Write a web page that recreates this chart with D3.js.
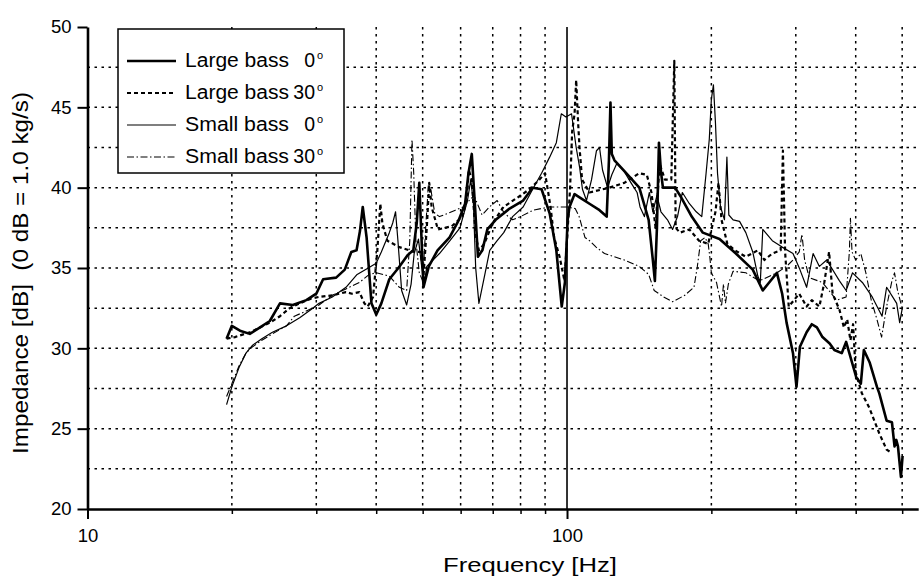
<!DOCTYPE html>
<html>
<head>
<meta charset="utf-8">
<script src="https://cdn.jsdelivr.net/npm/d3@7"></script>
<style>
  body { margin: 0; background: #fff; }
  svg { font-family: "Liberation Sans", Arial, sans-serif; }
</style>
</head>
<body>
<div id="chart"></div>
<script>
// Values: [frequency Hz, impedance dB]
const largeBass0 = [
  [19.5,30.6],[20.0,31.4],[20.8,31.1],[21.8,30.9],[22.9,31.3],[24.0,31.7],[25.2,32.8],[26.8,32.7],
  [28.6,33.0],[30.0,33.4],[31.0,34.3],[33.0,34.4],[34.4,34.9],[35.5,36.0],[36.4,36.1],[37.0,37.3],
  [37.5,38.8],[38.2,36.9],[39.1,32.8],[40.0,32.1],[41.0,32.8],[42.6,34.3],[44.5,35.0],[46.5,35.8],
  [47.8,36.1],[48.6,37.8],[49.2,40.3],[49.7,37.0],[50.2,33.8],[51.5,35.1],[53.7,36.1],[56.9,36.9],
  [59.5,38.0],[61.3,39.0],[62.3,40.9],[63.3,42.1],[64.3,38.8],[65.2,35.7],[66.6,36.1],[68.2,37.4],
  [71.0,38.0],[75.9,38.7],[81.0,39.2],[84.8,40.0],[88.5,39.9],[92.0,38.4],[95.0,36.1],[97.5,32.6],
  [99.0,34.1],[100.3,38.0],[101.2,38.8],[103.7,39.6],[106.2,39.4],[111.4,39.0],[116.9,38.6],[121.0,38.2],
  [122.3,41.7],[123.2,45.3],[124.0,42.1],[125.6,41.7],[131.0,41.1],[141.5,40.0],[148.0,38.0],[151.0,35.5],
  [152.5,34.2],[154.0,37.5],[155.5,42.8],[157.0,41.0],[158.5,40.0],[168.0,40.0],[173.0,39.4],[182.0,38.2],
  [192.0,37.2],[208.0,36.8],[225.0,35.9],[244.0,34.9],[256.0,33.6],[264.0,34.1],[274.0,34.7],[281.0,33.4],
  [287.0,31.6],[296.0,29.7],[301.0,27.6],[306.0,30.1],[316.0,31.0],[324.0,31.5],[332.0,31.3],[341.0,30.7],
  [353.0,30.3],[361.0,29.9],[374.0,29.7],[382.0,30.4],[388.0,29.7],[401.0,28.2],[410.0,27.8],[416.0,29.9],
  [428.0,29.1],[443.0,27.6],[448.0,27.2],[464.0,25.5],[476.0,25.4],[482.0,23.9],[486.0,24.3],[490.0,23.9],
  [497.0,22.0],[501.0,23.3]
];

const largeBass30 = [
  [19.5,30.6],[20.3,30.7],[21.8,31.0],[22.9,31.3],[24.0,31.6],[25.2,32.0],[26.4,32.5],[27.7,32.8],
  [29.3,33.1],[30.4,33.2],[32.4,33.3],[34.6,33.5],[35.6,33.4],[36.9,33.5],[37.8,32.8],[38.4,32.6],
  [39.4,33.2],[40.2,36.0],[40.8,39.0],[41.2,37.8],[42.2,36.7],[44.7,36.3],[46.9,36.1],[48.0,36.0],
  [49.5,36.0],[50.2,34.5],[51.0,37.5],[51.6,40.3],[52.2,38.8],[53.8,37.4],[57.5,37.6],[60.5,38.2],
  [61.8,39.2],[62.4,41.1],[63.3,40.5],[64.5,37.0],[65.5,36.1],[67.2,36.5],[70.0,37.8],[73.7,38.8],
  [79.0,39.4],[83.5,39.9],[87.6,40.5],[90.0,40.9],[92.4,38.8],[94.0,36.9],[96.5,35.7],[98.8,34.2],
  [100.0,36.7],[101.5,40.0],[102.5,43.5],[103.7,44.6],[104.5,46.7],[105.5,44.0],[106.2,42.5],[107.5,40.5],
  [111.4,39.7],[122.6,40.0],[131.7,40.3],[141.5,40.9],[146.7,40.8],[150.0,39.7],[153.0,37.5],[156.0,41.5],
  [160.0,40.5],[165.0,40.5],[167.4,47.9],[168.5,37.5],[172.0,37.2],[180.0,37.4],[188.5,36.7],[197.0,36.5],
  [204.0,38.5],[207.0,40.3],[210.0,38.0],[216.0,36.5],[224.0,36.1],[236.0,35.7],[250.0,36.1],[258.0,35.5],
  [268.0,35.9],[279.0,36.1],[282.0,42.3],[285.0,36.0],[290.0,32.6],[305.0,33.4],[316.0,32.6],[324.0,33.0],
  [336.0,32.6],[344.0,34.1],[352.0,36.0],[358.0,33.4],[370.0,32.4],[378.0,31.3],[384.0,31.8],[390.0,30.5],
  [395.0,31.5],[400.0,28.5],[412.0,27.2],[427.0,26.3],[448.0,24.7],[464.0,23.7],[475.0,23.5]
];

const smallBass0 = [
  [19.5,26.5],[20.0,27.6],[20.7,28.8],[21.4,29.7],[22.1,30.2],[23.1,30.6],[24.3,31.0],[26.0,31.4],
  [27.7,31.9],[29.5,32.5],[30.4,32.8],[32.4,33.2],[34.6,33.8],[36.5,34.6],[38.5,35.0],[40.0,35.3],
  [41.0,36.0],[42.6,37.2],[43.3,37.8],[43.9,38.5],[44.4,36.7],[45.2,33.6],[46.3,32.7],[47.3,34.0],
  [48.0,35.9],[49.0,36.8],[49.8,35.0],[50.5,34.2],[51.0,35.1],[54.2,35.9],[57.0,36.7],[59.8,37.5],
  [62.0,39.2],[63.0,40.5],[63.8,39.0],[64.5,35.0],[65.5,32.8],[67.5,34.7],[69.0,36.1],[71.5,36.7],
  [73.8,37.2],[77.0,38.2],[81.0,38.8],[84.8,39.9],[88.5,40.9],[92.0,41.9],[95.0,42.8],[97.3,44.6],
  [99.5,44.4],[102.2,44.6],[104.5,42.5],[106.2,41.3],[107.7,39.9],[109.8,39.2],[112.5,40.5],[115.2,42.3],
  [116.9,42.5],[118.6,41.1],[121.5,40.0],[124.0,40.8],[127.0,41.5],[131.0,41.1],[136.0,40.3],[140.0,39.7],
  [142.0,38.8],[145.0,38.2],[148.5,39.7],[151.0,38.5],[154.0,39.5],[157.0,38.5],[162.0,38.0],[166.0,37.4],
  [170.0,38.2],[174.0,39.7],[180.0,39.0],[186.0,38.5],[191.0,38.2],[195.0,40.9],[198.0,43.0],[200.0,45.5],
  [202.0,46.4],[204.0,44.0],[206.0,40.9],[209.0,38.8],[213.0,38.0],[215.5,41.9],[217.5,38.3],[222.0,38.0],
  [229.0,37.9],[236.0,37.2],[244.0,36.0],[250.0,34.5],[253.0,34.1],[256.0,37.4],[268.0,36.7],[281.0,36.3],
  [296.0,35.9],[306.0,34.9],[316.0,33.8],[326.0,35.9],[336.0,35.1],[348.0,35.5],[370.0,34.2],[382.0,33.6],
  [394.0,34.7],[413.0,34.1],[433.0,33.2],[454.0,32.0],[464.0,33.8],[487.0,32.8],[494.0,31.6],[501.0,32.6]
];

const smallBass30 = [
  [19.5,27.0],[20.0,27.8],[20.7,28.9],[21.4,29.7],[22.1,30.1],[23.1,30.5],[24.3,30.9],[26.0,31.4],
  [27.0,32.0],[28.5,32.3],[30.4,32.7],[32.4,33.3],[34.6,33.7],[36.9,34.1],[38.7,34.6],[40.0,34.7],
  [42.6,34.5],[44.7,33.8],[46.3,33.6],[47.0,36.7],[47.5,43.0],[47.9,40.9],[48.4,36.7],[49.2,34.7],
  [50.0,34.2],[50.8,37.8],[51.4,40.2],[52.0,39.9],[53.0,38.4],[54.2,38.2],[56.5,38.4],[58.5,38.6],
  [60.8,38.8],[62.5,39.2],[64.0,39.5],[66.5,38.3],[68.9,38.8],[71.5,39.2],[74.0,38.4],[77.0,38.0],
  [80.0,38.2],[85.0,38.6],[92.0,38.8],[100.0,38.8],[104.0,38.7],[106.0,38.2],[109.0,36.9],[111.4,36.7],
  [115.0,36.3],[119.7,35.9],[131.7,35.5],[141.5,35.1],[148.0,34.6],[152.0,33.6],[159.0,33.2],[166.0,32.9],
  [176.0,33.3],[184.0,33.8],[187.0,35.1],[190.0,36.7],[194.0,36.9],[197.0,36.5],[198.5,35.7],[200.0,34.7],
  [205.0,34.1],[208.0,33.2],[210.0,32.6],[212.0,34.0],[214.0,32.8],[217.0,34.0],[222.0,34.8],[236.0,34.7],
  [252.0,34.2],[274.0,34.7],[287.0,35.1],[296.0,35.5],[305.0,36.0],[309.0,37.1],[313.0,35.5],[320.0,34.4],
  [341.0,34.1],[365.0,33.0],[382.0,33.2],[388.0,36.0],[390.0,38.1],[393.0,36.0],[400.0,35.5],[410.0,35.9],
  [420.0,34.7],[431.0,33.0],[443.0,31.8],[453.0,30.7],[464.0,32.6],[476.0,34.2],[482.0,34.7],[489.0,33.6],
  [499.0,32.6]
];

const seriesNames = ["Large bass", "Large bass", "Small bass", "Small bass"];
const seriesAngles = ["0", "30", "0", "30"];
const yTickValues = [20, 25, 30, 35, 40, 45, 50];
const yGridValues = [22.5, 25, 27.5, 30, 32.5, 35, 37.5, 40, 42.5, 45, 47.5];
const xMajorTicks = [10, 100];
const xMinorTicks = [20, 30, 40, 50, 60, 70, 80, 90, 200, 300, 400, 500];

const W = 920, H = 578;

const svg = d3.select("#chart")
    .append("svg")
    .attr("width", W)
    .attr("height", H);

// Scales
const x = d3.scaleLog().domain([10, 540]).range([87.5, 918.2]);
const y = d3.scaleLinear().domain([20, 50]).range([509, 27]);

// Dotted grid
const grid = svg.append("g").attr("class", "grid")
    .attr("stroke", "#000")
    .attr("stroke-width", 1.5)
    .attr("stroke-dasharray", "2.5,4.5");

grid.selectAll(".hgrid")
    .data(yGridValues)
    .enter().append("line")
    .attr("x1", x.range()[0]).attr("x2", x.range()[1])
    .attr("y1", d => y(d)).attr("y2", d => y(d));

grid.selectAll(".vgrid")
    .data(xMinorTicks)
    .enter().append("line")
    .attr("x1", d => x(d)).attr("x2", d => x(d))
    .attr("y1", y(50)).attr("y2", y(20));

// Solid line at 100 Hz
svg.append("line")
    .attr("x1", x(100)).attr("x2", x(100))
    .attr("y1", y(50)).attr("y2", y(20))
    .attr("stroke", "#000")
    .attr("stroke-width", 1.6);

// Curves
const line = d3.line()
    .x(d => x(d[0]))
    .y(d => y(d[1]));

const styles = [
    { data: largeBass0,  width: 2.6, dash: null },
    { data: largeBass30, width: 2.2, dash: "4,3" },
    { data: smallBass0,  width: 1.2, dash: null },
    { data: smallBass30, width: 1.1, dash: "7,2.5,1.5,2.5" }
];

svg.append("g").attr("class", "curves")
    .selectAll("path")
    .data(styles)
    .enter().append("path")
    .attr("d", d => line(d.data))
    .attr("fill", "none")
    .attr("stroke", "#000")
    .attr("stroke-width", d => d.width)
    .attr("stroke-dasharray", d => d.dash)
    .attr("stroke-linejoin", "round");

// Axes
const xAxis = svg.append("g")
    .attr("transform", `translate(0,${y(20)})`)
    .call(d3.axisBottom(x).tickValues(xMajorTicks).tickFormat(d3.format("d"))
        .tickSize(10).tickSizeOuter(0).tickPadding(10));

svg.append("g")
    .attr("transform", `translate(0,${y(20)})`)
    .call(d3.axisBottom(x).tickValues(xMinorTicks).tickFormat("").tickSize(5).tickSizeOuter(0))
    .call(g => g.select(".domain").remove())
    .selectAll("line").attr("stroke-width", 1.5);

const yAxis = svg.append("g")
    .attr("transform", `translate(${x(10)},0)`)
    .call(d3.axisLeft(y).tickValues(yTickValues).tickSize(10).tickSizeOuter(0).tickPadding(6));

[xAxis, yAxis].forEach(g => {
    g.select(".domain").attr("stroke-width", 2.6);
    g.selectAll(".tick line").attr("stroke-width", 2);
    g.selectAll(".tick text")
        .attr("font-size", 18.5)
        .attr("fill", "#000")
        .style("font-family", "'Liberation Sans', Arial, sans-serif");
});

// Axis titles
svg.append("text")
    .attr("x", 530)
    .attr("y", 572)
    .attr("text-anchor", "middle")
    .attr("font-size", 21)
    .attr("textLength", 174)
    .attr("lengthAdjust", "spacingAndGlyphs")
    .text("Frequency [Hz]");

svg.append("text")
    .attr("transform", "translate(28,273) rotate(-90)")
    .attr("text-anchor", "middle")
    .attr("font-size", 21.5)
    .attr("textLength", 362)
    .attr("lengthAdjust", "spacingAndGlyphs")
    .style("white-space", "pre")
    .text("Impedance [dB]  (0 dB = 1.0 kg/s)");

// Legend
const legend = svg.append("g").attr("class", "legend");

legend.append("rect")
    .attr("x", 118).attr("y", 29)
    .attr("width", 226).attr("height", 144)
    .attr("fill", "#fff")
    .attr("stroke", "#000")
    .attr("stroke-width", 1.5);

const rows = legend.selectAll(".row")
    .data(styles)
    .enter().append("g")
    .attr("class", "row")
    .attr("transform", (d, i) => `translate(0,${67 + i * 32})`);

rows.append("line")
    .attr("x1", 127).attr("x2", 176)
    .attr("y1", -6).attr("y2", -6)
    .attr("stroke", "#000")
    .attr("stroke-width", d => d.width)
    .attr("stroke-dasharray", d => d.dash);

rows.append("text")
    .attr("x", 185)
    .attr("font-size", 19.5)
    .attr("textLength", 104)
    .attr("lengthAdjust", "spacingAndGlyphs")
    .text((d, i) => seriesNames[i]);

rows.append("text")
    .attr("x", 315)
    .attr("text-anchor", "end")
    .attr("font-size", 19.5)
    .text((d, i) => seriesAngles[i]);

rows.append("text")
    .attr("x", 317)
    .attr("y", -8)
    .attr("font-size", 11)
    .text("o");
</script>
</body>
</html>
